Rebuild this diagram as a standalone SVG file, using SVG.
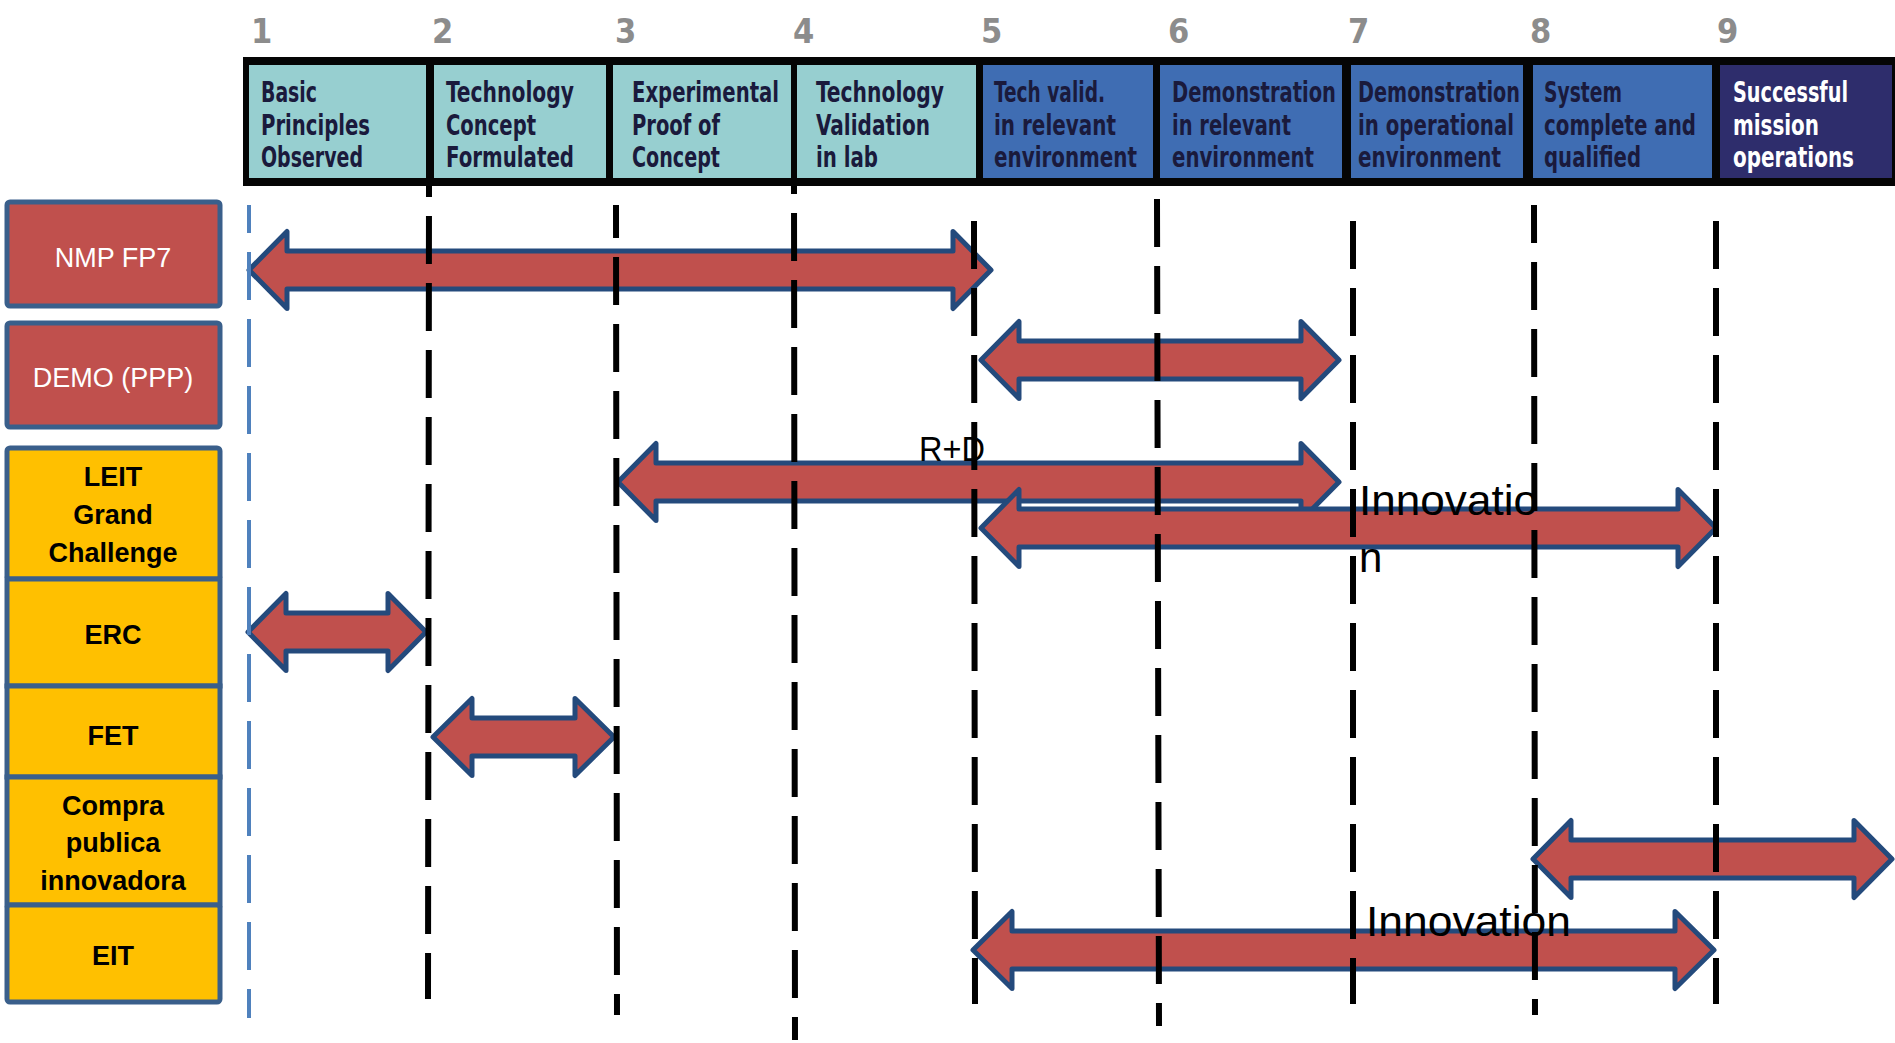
<svg xmlns="http://www.w3.org/2000/svg" width="1895" height="1043" viewBox="0 0 1895 1043">
<style>
.num{font-family:"DejaVu Sans Condensed","DejaVu Sans",sans-serif;font-weight:bold;font-size:34px;fill:#8c8c8c}
.ht{font-family:"DejaVu Sans Condensed","DejaVu Sans",sans-serif;font-weight:bold;font-size:28px;fill:#1a1a3c}
.hw{fill:#ffffff}
.teal{fill:#97cfd0}
.blue{fill:#3f6db3}
.navy{fill:#2e2d6c}
.red{fill:#c0504d;stroke:#3a5f8b;stroke-width:5}
.yel{fill:#ffc000;stroke:#3a5f8b;stroke-width:5}
.nt{font-family:"Liberation Sans",Arial,sans-serif;font-size:27px;fill:#ffffff;text-anchor:middle}
.yt{font-family:"Liberation Sans",Arial,sans-serif;font-size:27px;font-weight:bold;fill:#000000;text-anchor:middle}
.arr{fill:#c0504d;stroke:#244a7c;stroke-width:5;stroke-linejoin:round}
.dl{stroke:#000000;stroke-width:6;stroke-dasharray:48 19;fill:none}
.bl{stroke:#4f81bd;stroke-width:4;stroke-dasharray:48 19;fill:none}
.lab{font-family:"Liberation Sans",Arial,sans-serif;fill:#000000}
</style>

<g id="header">
  <rect x="243" y="57" width="1652" height="129" fill="#050505"/>
  <rect class="teal" x="249" y="65" width="177" height="113"/>
  <rect class="teal" x="434" y="65" width="172" height="113"/>
  <rect class="teal" x="613" y="65" width="178" height="113"/>
  <rect class="teal" x="797" y="65" width="179" height="113"/>
  <rect class="blue" x="983" y="65" width="170" height="113"/>
  <rect class="blue" x="1160" y="65" width="182" height="113"/>
  <rect class="blue" x="1351" y="65" width="172" height="113"/>
  <rect class="blue" x="1533" y="65" width="179" height="113"/>
  <rect class="navy" x="1720" y="65" width="172" height="113"/>

  <text class="num" x="251" y="43">1</text>
  <text class="num" x="432" y="43">2</text>
  <text class="num" x="615" y="43">3</text>
  <text class="num" x="793" y="43">4</text>
  <text class="num" x="981" y="43">5</text>
  <text class="num" x="1168" y="43">6</text>
  <text class="num" x="1348" y="43">7</text>
  <text class="num" x="1530" y="43">8</text>
  <text class="num" x="1717" y="43">9</text>

  <text class="ht" x="261" y="102" textLength="56" lengthAdjust="spacingAndGlyphs">Basic</text>
  <text class="ht" x="261" y="134.5" textLength="109" lengthAdjust="spacingAndGlyphs">Principles</text>
  <text class="ht" x="261" y="167" textLength="102" lengthAdjust="spacingAndGlyphs">Observed</text>

  <text class="ht" x="446" y="102" textLength="128" lengthAdjust="spacingAndGlyphs">Technology</text>
  <text class="ht" x="446" y="134.5" textLength="90" lengthAdjust="spacingAndGlyphs">Concept</text>
  <text class="ht" x="446" y="167" textLength="128" lengthAdjust="spacingAndGlyphs">Formulated</text>

  <text class="ht" x="632" y="102" textLength="147" lengthAdjust="spacingAndGlyphs">Experimental</text>
  <text class="ht" x="632" y="134.5" textLength="88" lengthAdjust="spacingAndGlyphs">Proof of</text>
  <text class="ht" x="632" y="167" textLength="88" lengthAdjust="spacingAndGlyphs">Concept</text>

  <text class="ht" x="816" y="102" textLength="128" lengthAdjust="spacingAndGlyphs">Technology</text>
  <text class="ht" x="816" y="134.5" textLength="114" lengthAdjust="spacingAndGlyphs">Validation</text>
  <text class="ht" x="816" y="167" textLength="62" lengthAdjust="spacingAndGlyphs">in lab</text>

  <text class="ht" x="994" y="102" textLength="111" lengthAdjust="spacingAndGlyphs">Tech valid.</text>
  <text class="ht" x="994" y="134.5" textLength="122" lengthAdjust="spacingAndGlyphs">in relevant</text>
  <text class="ht" x="994" y="167" textLength="143" lengthAdjust="spacingAndGlyphs">environment</text>

  <text class="ht" x="1172" y="102" textLength="164" lengthAdjust="spacingAndGlyphs">Demonstration</text>
  <text class="ht" x="1172" y="134.5" textLength="119" lengthAdjust="spacingAndGlyphs">in relevant</text>
  <text class="ht" x="1172" y="167" textLength="142" lengthAdjust="spacingAndGlyphs">environment</text>

  <text class="ht" x="1358" y="102" textLength="162" lengthAdjust="spacingAndGlyphs">Demonstration</text>
  <text class="ht" x="1358" y="134.5" textLength="156" lengthAdjust="spacingAndGlyphs">in operational</text>
  <text class="ht" x="1358" y="167" textLength="143" lengthAdjust="spacingAndGlyphs">environment</text>

  <text class="ht" x="1544" y="102" textLength="78" lengthAdjust="spacingAndGlyphs">System</text>
  <text class="ht" x="1544" y="134.5" textLength="152" lengthAdjust="spacingAndGlyphs">complete and</text>
  <text class="ht" x="1544" y="167" textLength="97" lengthAdjust="spacingAndGlyphs">qualified</text>

  <text class="ht hw" x="1733" y="102" textLength="115" lengthAdjust="spacingAndGlyphs">Successful</text>
  <text class="ht hw" x="1733" y="134.5" textLength="86" lengthAdjust="spacingAndGlyphs">mission</text>
  <text class="ht hw" x="1733" y="167" textLength="121" lengthAdjust="spacingAndGlyphs">operations</text>
</g>

<g id="node-nmp">
  <rect class="red" x="7" y="202" width="213" height="104" rx="3"/>
  <text class="nt" x="113" y="267">NMP FP7</text>
</g>
<g id="node-demo">
  <rect class="red" x="7" y="323" width="213" height="104" rx="3"/>
  <text class="nt" x="113" y="387">DEMO (PPP)</text>
</g>
<g id="node-leit">
  <rect class="yel" x="7" y="448" width="213" height="131" rx="3"/>
  <text class="yt" x="113" y="486">LEIT</text>
  <text class="yt" x="113" y="524">Grand</text>
  <text class="yt" x="113" y="562">Challenge</text>
</g>
<g id="node-erc">
  <rect class="yel" x="7" y="579" width="213" height="107"/>
  <text class="yt" x="113" y="644">ERC</text>
</g>
<g id="node-fet">
  <rect class="yel" x="7" y="686" width="213" height="91"/>
  <text class="yt" x="113" y="745">FET</text>
</g>
<g id="node-compra">
  <rect class="yel" x="7" y="777" width="213" height="128"/>
  <text class="yt" x="113" y="815">Compra</text>
  <text class="yt" x="113" y="852">publica</text>
  <text class="yt" x="113" y="890">innovadora</text>
</g>
<g id="node-eit">
  <rect class="yel" x="7" y="905" width="213" height="97" rx="3"/>
  <text class="yt" x="113" y="965">EIT</text>
</g>

<g id="connectors">
  <path class="arr" d="M249,270 L287,231.5 L287,251 L953,251 L953,231.5 L991,270 L953,308.5 L953,289 L287,289 L287,308.5 Z"/>
  <path class="arr" d="M981,360 L1019,321.5 L1019,341 L1301,341 L1301,321.5 L1339,360 L1301,398.5 L1301,379 L1019,379 L1019,398.5 Z"/>
  <path class="arr" d="M618,482 L656,443.5 L656,463 L1301,463 L1301,443.5 L1339,482 L1301,520.5 L1301,501 L656,501 L656,520.5 Z"/>
  <path class="arr" d="M981,528 L1019,489.5 L1019,509 L1678,509 L1678,489.5 L1716,528 L1678,566.5 L1678,547 L1019,547 L1019,566.5 Z"/>
  <path class="arr" d="M248,632 L286,593.5 L286,613 L388,613 L388,593.5 L426,632 L388,670.5 L388,651 L286,651 L286,670.5 Z"/>
  <path class="arr" d="M433,737 L472,698.5 L472,718 L575,718 L575,698.5 L614,737 L575,775.5 L575,756 L472,756 L472,775.5 Z"/>
  <path class="arr" d="M1533,859 L1571,820.5 L1571,840 L1854,840 L1854,820.5 L1892,859 L1854,897.5 L1854,878 L1571,878 L1571,897.5 Z"/>
  <path class="arr" d="M973,950 L1012,911.5 L1012,931 L1675,931 L1675,911.5 L1714,950 L1675,988.5 L1675,969 L1012,969 L1012,988.5 Z"/>
</g>

<g id="grid">
  <line class="bl" x1="249" y1="205" x2="249" y2="1018" stroke-dashoffset="20"/>
  <line class="dl" x1="429" y1="186" x2="428" y2="999" stroke-dashoffset="37"/>
  <line class="dl" x1="616" y1="205" x2="617" y2="1015" stroke-dashoffset="15"/>
  <line class="dl" x1="794" y1="186" x2="795" y2="1040" stroke-dashoffset="40"/>
  <line class="dl" x1="974" y1="221" x2="975" y2="1004"/>
  <line class="dl" x1="1157" y1="199" x2="1159" y2="1026"/>
  <line class="dl" x1="1353" y1="221" x2="1353" y2="1004"/>
  <line class="dl" x1="1534" y1="205" x2="1535" y2="1015" stroke-dashoffset="10"/>
  <line class="dl" x1="1716" y1="221" x2="1716" y2="1004"/>
</g>

<g id="labels">
  <text class="lab" x="919" y="461" font-size="35" textLength="66" lengthAdjust="spacingAndGlyphs">R+D</text>
  <text class="lab" x="1359" y="515" font-size="42" textLength="179" lengthAdjust="spacingAndGlyphs">Innovatio</text>
  <text class="lab" x="1359" y="572" font-size="42">n</text>
  <text class="lab" x="1366" y="936" font-size="42" textLength="205" lengthAdjust="spacingAndGlyphs">Innovation</text>
</g>
</svg>
